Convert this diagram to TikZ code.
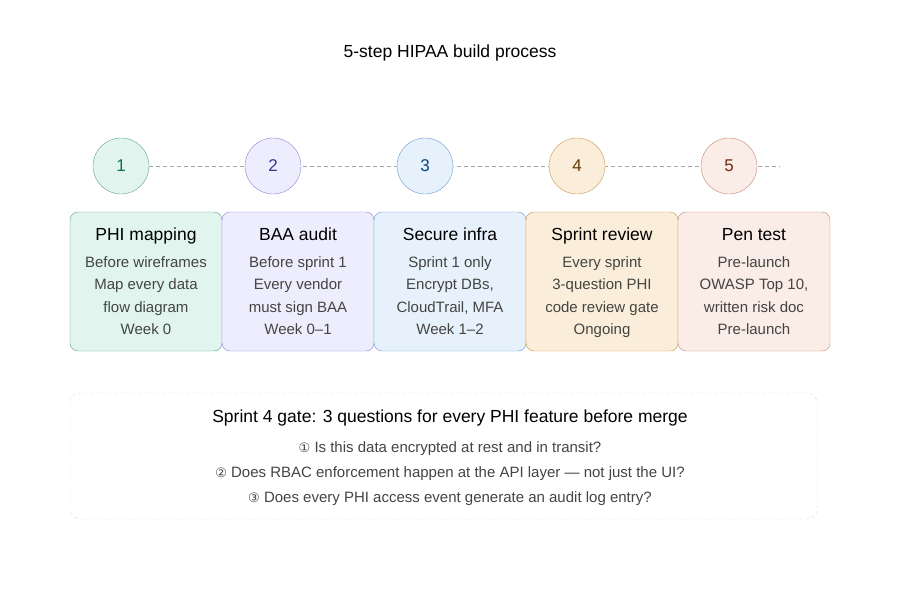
\documentclass[tikz,border=0pt]{standalone}
\usepackage{fontspec}
\setmainfont{Liberation Sans}
\newfontfamily\symfont{DejaVu Sans}
\definecolor{tealfill}{HTML}{E1F5EE}\definecolor{tealdraw}{HTML}{5DA58A}\definecolor{tealtext}{HTML}{0F6E56}
\definecolor{purpfill}{HTML}{EEEDFE}\definecolor{purpdraw}{HTML}{8C83D9}\definecolor{purptext}{HTML}{3C3489}
\definecolor{bluefill}{HTML}{E6F1FB}\definecolor{bluedraw}{HTML}{6A9BD1}\definecolor{bluetext}{HTML}{0C447C}
\definecolor{ambfill}{HTML}{FAEEDA}\definecolor{ambdraw}{HTML}{C9964F}\definecolor{ambtext}{HTML}{633806}
\definecolor{corfill}{HTML}{FAECE7}\definecolor{cordraw}{HTML}{C98472}\definecolor{cortext}{HTML}{712B13}
\definecolor{bodytext}{HTML}{444441}
\tikzset{
  stepnum/.style={circle, draw=#1draw, fill=#1fill, text=#1text, minimum size=56pt, inner sep=0pt, font=\fontsize{17}{17}\selectfont},
  stepbox/.style={rounded corners=8pt, draw=#1draw, fill=#1fill, minimum width=152pt, minimum height=139pt, inner sep=0pt},
  boxtitle/.style={font=\fontsize{17.5}{17.5}\selectfont, text=black, text height=0.75em, text depth=0.22em},
  boxline/.style={font=\fontsize{15}{15}\selectfont, text=bodytext, text height=0.75em, text depth=0.22em},
}
\begin{document}
\begin{tikzpicture}[x=1pt,y=-1pt]
\useasboundingbox (0,0) rectangle (900,600);

% Title
\node [boxtitle] (title) at (450,55) {5-step HIPAA build process};

% Timeline
\coordinate (lineend) at (780,166);
\draw [gray!70, dashed, dash pattern=on 4pt off 3pt] (149,166) -- (lineend);

% Step circles
\node [stepnum=teal] (n1) at (121,166) {1};
\node [stepnum=purp] (n2) at (273,166) {2};
\node [stepnum=blue] (n3) at (425,166) {3};
\node [stepnum=amb] (n4) at (577,166) {4};
\node [stepnum=cor] (n5) at (729,166) {5};

% Step boxes
\node [stepbox=teal] (b1) at (146,281.5) {};
\node [stepbox=purp] (b2) at (298,281.5) {};
\node [stepbox=blue] (b3) at (450,281.5) {};
\node [stepbox=amb] (b4) at (602,281.5) {};
\node [stepbox=cor] (b5) at (754,281.5) {};

% Box texts
\node [boxtitle] (t1) at (146,238) {PHI mapping};
\node [boxline] (l11) at (146,265) {Before wireframes};
\node [boxline] (l12) at (146,287) {Map every data};
\node [boxline] (l13) at (146,310) {flow diagram};
\node [boxline] (l14) at (146,332) {Week 0};

\node [boxtitle] (t2) at (298,238) {BAA audit};
\node [boxline] (l21) at (298,265) {Before sprint 1};
\node [boxline] (l22) at (298,287) {Every vendor};
\node [boxline] (l23) at (298,310) {must sign BAA};
\node [boxline] (l24) at (298,332) {Week 0--1};

\node [boxtitle] (t3) at (450,238) {Secure infra};
\node [boxline] (l31) at (450,265) {Sprint 1 only};
\node [boxline] (l32) at (450,287) {Encrypt DBs,};
\node [boxline] (l33) at (450,310) {CloudTrail, MFA};
\node [boxline] (l34) at (450,332) {Week 1--2};

\node [boxtitle] (t4) at (602,238) {Sprint review};
\node [boxline] (l41) at (602,265) {Every sprint};
\node [boxline] (l42) at (602,287) {3-question PHI};
\node [boxline] (l43) at (602,310) {code review gate};
\node [boxline] (l44) at (602,332) {Ongoing};

\node [boxtitle] (t5) at (754,238) {Pen test};
\node [boxline] (l51) at (754,265) {Pre-launch};
\node [boxline] (l52) at (754,287) {OWASP Top 10,};
\node [boxline] (l53) at (754,310) {written risk doc};
\node [boxline] (l54) at (754,332) {Pre-launch};

% Gate panel
\node [rounded corners=10pt, draw=gray!30, dashed, minimum width=747pt, minimum height=126pt] (gate) at (443.5,456) {};
\node [boxtitle] (gtitle) at (450,420) {Sprint 4 gate: 3 questions for every PHI feature before merge};
\node [boxline] (q1) at (450,450) {{\symfont\fontsize{13}{13}\selectfont ①} Is this data encrypted at rest and in transit?};
\node [boxline] (q2) at (450,475) {{\symfont\fontsize{13}{13}\selectfont ②} Does RBAC enforcement happen at the API layer --- not just the UI?};
\node [boxline] (q3) at (450,500) {{\symfont\fontsize{13}{13}\selectfont ③} Does every PHI access event generate an audit log entry?};

\end{tikzpicture}
\end{document}
